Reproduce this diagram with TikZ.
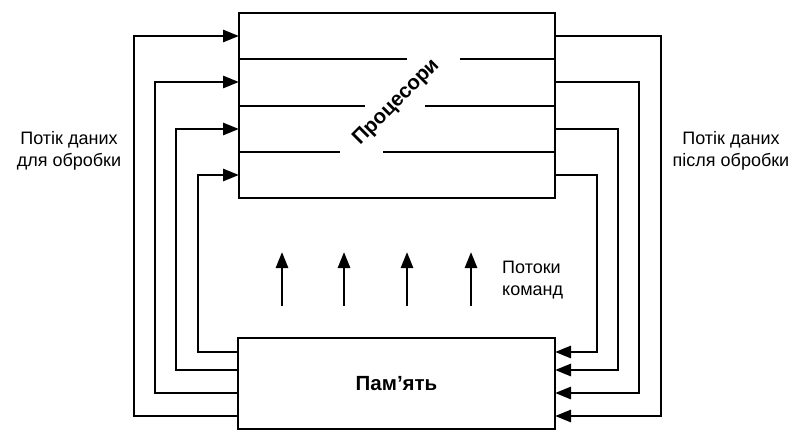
\documentclass[tikz,border=0pt]{standalone}
\usepackage{fontspec}
\setmainfont{Liberation Sans}
\usetikzlibrary{arrows.meta,positioning,calc}

\begin{document}
\begin{tikzpicture}[x=1pt, y=-1pt,
  blk/.style={draw, line width=2.8pt, inner sep=0pt},
  ln/.style ={line width=2.8pt},
  ar/.style ={line width=2.8pt, -{Triangle[length=16pt,width=12pt]}},
  lbl/.style={font=\fontsize{18}{22}\selectfont, align=center, inner sep=0pt},
  big/.style={font=\fontsize{20.5}{24}\selectfont\bfseries, inner sep=0pt}
]
\useasboundingbox (0,0) rectangle (797,430);
\node[blk, minimum width=316pt, minimum height=185pt] (proc) at (397,105.5) {};
\node[blk, big, minimum width=317pt, minimum height=91pt] (mem) at (396.5,383.5) {Пам’ять};
\draw[ln] (239,59) -- (407,59) (460,59) -- (555,59);
\draw[ln] (239,106) -- (365,106) (425,106) -- (555,106);
\draw[ln] (239,152) -- (340,152) (383,152) -- (555,152);
\node[big, rotate=45] (ptxt) at (396.5,102.5) {Процесори};
\foreach \i/\y in {1/36,2/82,3/129,4/175} {
  \coordinate (in\i) at (239,\y);
  \coordinate (out\i) at (555,\y);
}
\foreach \i/\y in {1/352,2/370,3/393,4/416} {
  \coordinate (ml\i) at (238,\y);
  \coordinate (mr\i) at (555,\y);
}
\foreach \i/\m/\d in {1/4/105,2/3/84,3/2/63,4/1/41}
  \draw[ar] (ml\m) -| ($(in\i)+(-\d,0)$) -- (in\i);
\foreach \i/\m/\d in {1/4/106,2/3/84,3/2/63,4/1/42}
  \draw[ar] (out\i) -- ++(\d,0) |- (mr\m);
\foreach \x [count=\k] in {282,344,407,471} {
  \coordinate (cs\k) at (\x,306);
  \coordinate (ce\k) at (\x,252);
  \draw[ar] (cs\k) -- (ce\k);
}
\node[lbl] (inlbl)  at (69,151)  {Потік даних\\для обробки};
\node[lbl] (outlbl) at (731,151) {Потік даних\\після обробки};
\node[lbl, align=left, anchor=west] (cmdlbl) at (502,280) {Потоки\\команд};
\end{tikzpicture}
\end{document}
